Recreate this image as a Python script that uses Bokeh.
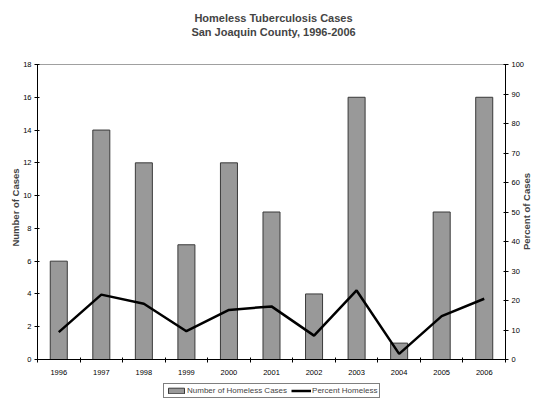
from bokeh.plotting import figure
from bokeh.models import (Range1d, LinearAxis, FixedTicker, Label, Legend, LegendItem,
                          ColumnDataSource)
from bokeh.embed import file_html
from bokeh.resources import INLINE
import math

# ---- data ----
years = ["1996", "1997", "1998", "1999", "2000", "2001", "2002", "2003", "2004", "2005", "2006"]
homeless_cases = [6, 14, 12, 7, 12, 9, 4, 16, 1, 9, 16]
percent_homeless = [9.3, 22.0, 18.9, 9.6, 16.8, 18.0, 8.1, 23.4, 1.9, 14.7, 20.6]
left_ticks = [0, 2, 4, 6, 8, 10, 12, 14, 16, 18]
right_ticks = [0, 10, 20, 30, 40, 50, 60, 70, 80, 90, 100]
title_lines = ["Homeless Tuberculosis Cases", "San Joaquin County, 1996-2006"]

FONT = "Liberation Sans"
W, H = 534, 401
LEFT_PX, RIGHT_PX = 37, 505       # pixel columns of the two value axes
TOP_PX, BOT_PX = 64, 359          # pixel rows of the 18 / 0 levels
CASES_MAX, PCT_MAX = 18, 100
n = len(years)
ppx = (RIGHT_PX - LEFT_PX) / n
x_lo = -0.5 - LEFT_PX / ppx
x_hi = n - 0.5 + (W - RIGHT_PX) / ppx
ppu = (BOT_PX - TOP_PX) / CASES_MAX
y_lo = -(H - BOT_PX) / ppu
y_hi = CASES_MAX + TOP_PX / ppu
pct_scale = PCT_MAX / CASES_MAX

def px_x(px):
    return -0.5 + (px - LEFT_PX) / ppx

def px_y(py):
    return (BOT_PX - py) / ppu

idx = list(range(n))
src = ColumnDataSource(dict(x=idx, cases=homeless_cases, pct=percent_homeless))

p = figure(width=W, height=H, output_backend="svg", toolbar_location=None,
           title_location=None,
           x_range=Range1d(x_lo, x_hi), y_range=Range1d(y_lo, y_hi),
           min_border_left=0, min_border_right=0, min_border_top=0, min_border_bottom=0,
           x_axis_location=None, y_axis_location=None)
p.background_fill_color = "white"
p.border_fill_color = "white"
p.outline_line_color = None
p.xgrid.visible = False
p.ygrid.visible = False
p.extra_y_ranges = {"pct": Range1d(y_lo * pct_scale, y_hi * pct_scale)}

def style_axis(ax):
    ax.axis_line_color = "black"
    ax.axis_line_width = 1
    ax.major_tick_line_color = "black"
    ax.minor_tick_line_color = "black"
    ax.major_label_text_font = FONT
    ax.major_label_text_font_size = "7.5px"
    ax.major_label_text_color = "black"

# x axis, pinned at the zero level
xax = LinearAxis(ticker=FixedTicker(ticks=idx, minor_ticks=[i - 0.5 for i in range(n + 1)]),
                 fixed_location=0, bounds=(-0.5, n - 0.5))
xax.major_label_overrides = {i: y for i, y in enumerate(years)}
style_axis(xax)
xax.major_tick_in = 0
xax.major_tick_out = 0
xax.minor_tick_in = 2
xax.minor_tick_out = 3
xax.major_label_standoff = 7
p.add_layout(xax, "below")

# top border of the plot area (plain line, no ticks)
top = LinearAxis(ticker=FixedTicker(ticks=[]), fixed_location=CASES_MAX, bounds=(-0.5, n - 0.5),
                 major_label_text_font_size="0px")
top.axis_line_color = "#a0a0a0"
top.major_tick_line_color = None
top.minor_tick_line_color = None
p.add_layout(top, "above")

# left axis
yl = LinearAxis(ticker=FixedTicker(ticks=left_ticks, minor_ticks=[]), fixed_location=-0.5,
                bounds=(0, CASES_MAX))
style_axis(yl)
yl.major_tick_in = 2
yl.major_tick_out = 3
yl.major_label_standoff = 3
p.add_layout(yl, "left")

# right axis
yr = LinearAxis(y_range_name="pct", ticker=FixedTicker(ticks=right_ticks, minor_ticks=[]),
                fixed_location=n - 0.5, bounds=(0, PCT_MAX))
style_axis(yr)
yr.major_tick_in = 2
yr.major_tick_out = 3
yr.major_label_standoff = 3
p.add_layout(yr, "right")

bars = p.vbar(x="x", top="cases", width=0.4, source=src,
              fill_color="#999999", line_color="#3a3a3a", line_width=1)
line = p.line(x="x", y="pct", source=src, y_range_name="pct",
              line_color="black", line_width=2.5)

# titles
mid = px_x(273)
p.add_layout(Label(x=mid, y=px_y(17), text=title_lines[0], text_font=FONT,
                   text_font_size="11px", text_font_style="bold", text_align="center",
                   text_baseline="alphabetic"))
p.add_layout(Label(x=mid, y=px_y(31), text=title_lines[1], text_font=FONT,
                   text_font_size="11px", text_font_style="bold", text_align="center",
                   text_baseline="alphabetic"))
# axis titles
p.add_layout(Label(x=px_x(15), y=px_y(207), text="Number of Cases", angle=math.pi / 2,
                   text_font=FONT, text_font_size="9.5px", text_font_style="bold",
                   text_align="center", text_baseline="middle"))
p.add_layout(Label(x=px_x(526), y=px_y(211), text="Percent of Cases", angle=math.pi / 2,
                   text_font=FONT, text_font_size="9.5px", text_font_style="bold",
                   text_align="center", text_baseline="middle"))

legend = Legend(items=[LegendItem(label="Number of Homeless Cases", renderers=[bars]),
                       LegendItem(label="Percent Homeless", renderers=[line])],
                orientation="horizontal", location=(163, 3))
legend.label_text_font = FONT
legend.label_text_font_size = "8px"
legend.label_height = 9
legend.glyph_height = 7
legend.glyph_width = 20
legend.label_standoff = 1
legend.spacing = 4
legend.padding = 2
legend.margin = 0
legend.border_line_color = "black"
legend.border_line_width = 1
legend.background_fill_color = "white"
p.add_layout(legend, "center")

open("out.html", "w").write(file_html(p, INLINE))
